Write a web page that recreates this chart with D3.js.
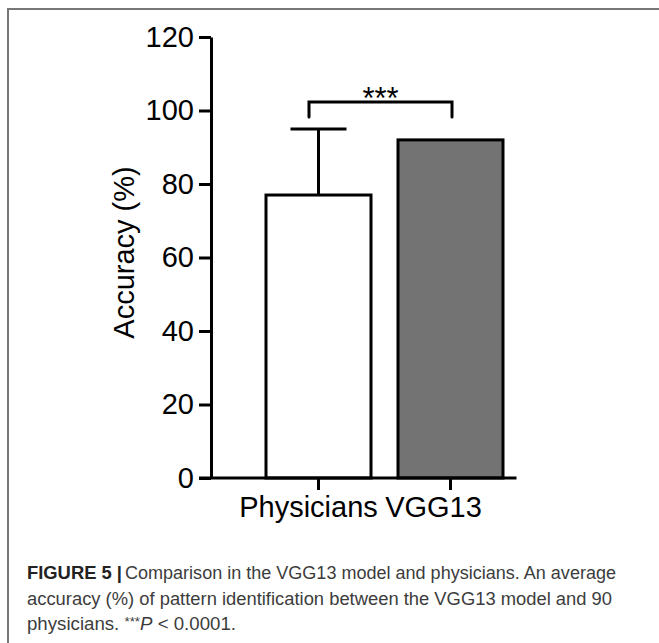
<!DOCTYPE html>
<html>
<head>
<meta charset="utf-8">
<script src="https://cdn.jsdelivr.net/npm/d3@7"></script>
<style>
  html, body { margin: 0; padding: 0; background: #fff; }
  svg { display: block; }
  text { font-family: "Liberation Sans", Arial, Helvetica, sans-serif; }
</style>
</head>
<body>
<svg id="chart" width="659" height="643"></svg>
<script>
// ---- data ----
const categories = ["Physicians", "VGG13"];
const means = [77, 92];
const errorTop = [95, null];
const yTicks = [0, 20, 40, 60, 80, 100, 120];
const yDomain = [0, 120];
const sigText = "***";
const sigBracket = [98.2, 102.3]; // drop end, bracket level (data units)
const yLabel = "Accuracy (%)";
const captionBold = "FIGURE 5 |";
const captionLines = [
  "Comparison in the VGG13 model and physicians. An average",
  "accuracy (%) of pattern identification between the VGG13 model and 90",
];

const svg = d3.select("#chart");

// frame
svg.append("path")
  .attr("d", "M8,643 L8,9 L659,9")
  .attr("fill", "none").attr("stroke", "#777").attr("stroke-width", 2);

const y = d3.scaleLinear().domain(yDomain).range([478, 37]);
const x = d3.scaleBand().domain(categories).range([252.5, 516.5])
  .paddingInner(0.2045).paddingOuter(0.1023);

const axisX0 = 211;
const tickLen = 12;

// bars
const fills = ["#ffffff", "#737373"];
svg.selectAll("rect.bar").data(categories).enter().append("rect")
  .attr("class", "bar")
  .attr("x", d => x(d))
  .attr("width", x.bandwidth())
  .attr("y", (d, i) => y(means[i]))
  .attr("height", (d, i) => y(0) - y(means[i]))
  .attr("fill", (d, i) => fills[i])
  .attr("stroke", "#000").attr("stroke-width", 3);

// error bars
categories.forEach((c, i) => {
  if (errorTop[i] == null) return;
  const cx = x(c) + x.bandwidth() / 2;
  svg.append("line").attr("x1", cx).attr("x2", cx)
    .attr("y1", y(means[i])).attr("y2", y(errorTop[i]))
    .attr("stroke", "#000").attr("stroke-width", 3);
  svg.append("line").attr("x1", cx - 28).attr("x2", cx + 28)
    .attr("y1", y(errorTop[i])).attr("y2", y(errorTop[i]))
    .attr("stroke", "#000").attr("stroke-width", 3);
});

// y axis
const yAxis = d3.axisLeft(y).tickValues(yTicks).tickSizeInner(tickLen).tickSizeOuter(0).tickPadding(5);
const gy = svg.append("g").attr("transform", `translate(${axisX0},0)`).call(yAxis);
gy.select(".domain").attr("stroke", "#000").attr("stroke-width", 3);
gy.selectAll(".tick line").attr("stroke", "#000").attr("stroke-width", 3);
gy.selectAll(".tick text").attr("font-size", 29).attr("fill", "#000")
  .attr("font-family", "Liberation Sans, Arial, sans-serif");

// x axis
const xAxis = d3.axisBottom(x).tickSizeInner(tickLen).tickSizeOuter(0).tickPadding(0);
const gx = svg.append("g").attr("transform", `translate(0,${y(0)})`).call(xAxis);
gx.select(".domain").remove();
gx.append("line").attr("x1", axisX0 - tickLen).attr("x2", x.range()[1])
  .attr("y1", 0).attr("y2", 0).attr("stroke", "#000").attr("stroke-width", 3);
gx.selectAll(".tick line").attr("stroke", "#000").attr("stroke-width", 3);
const xLabelShift = [-10, -17];
gx.selectAll(".tick text").attr("font-size", 29).attr("fill", "#000")
  .attr("font-family", "Liberation Sans, Arial, sans-serif")
  .attr("y", 39).attr("dy", 0)
  .attr("dx", (d, i) => xLabelShift[i]);

// y label
svg.append("text")
  .attr("transform", `translate(134,252.5) rotate(-90)`)
  .attr("text-anchor", "middle")
  .attr("font-size", 29).attr("fill", "#000")
  .text(yLabel);

// significance bracket
const bx1 = x(categories[0]) + x.bandwidth() / 2 - 9.5;
const bx2 = x(categories[1]) + x.bandwidth() / 2 + 1.5;
svg.append("path")
  .attr("d", `M${bx1},${y(sigBracket[0])} L${bx1},${y(sigBracket[1])} L${bx2},${y(sigBracket[1])} L${bx2},${y(sigBracket[0])}`)
  .attr("fill", "none").attr("stroke", "#000").attr("stroke-width", 3)
  .attr("stroke-linecap", "round").attr("stroke-linejoin", "miter");
svg.append("text")
  .attr("x", (bx1 + bx2) / 2).attr("y", y(sigBracket[1]) + 7)
  .attr("text-anchor", "middle").attr("font-size", 31).attr("fill", "#000")
  .text(sigText);

// caption
const capColor = "#3c3c3c";
const capSize = 17.5;
svg.append("text").attr("x", 27).attr("y", 579)
  .attr("font-size", capSize).attr("font-weight", "bold").attr("fill", "#222")
  .attr("textLength", 95).attr("lengthAdjust", "spacingAndGlyphs")
  .text(captionBold);
svg.append("text").attr("x", 125).attr("y", 579)
  .attr("font-size", capSize).attr("fill", capColor)
  .attr("textLength", 491).attr("lengthAdjust", "spacingAndGlyphs")
  .text(captionLines[0]);
svg.append("text").attr("x", 27).attr("y", 605)
  .attr("font-size", capSize).attr("fill", capColor)
  .attr("textLength", 585).attr("lengthAdjust", "spacingAndGlyphs")
  .text(captionLines[1]);
const l3 = svg.append("text").attr("x", 27).attr("y", 630)
  .attr("font-size", capSize).attr("fill", capColor)
  .attr("textLength", 209).attr("lengthAdjust", "spacingAndGlyphs");
l3.append("tspan").text("physicians. ");
l3.append("tspan").attr("font-size", 12.5).attr("dy", -4).text("***");
l3.append("tspan").attr("font-style", "italic").attr("dy", 4).text("P");
l3.append("tspan").text(" < 0.0001.");
</script>
</body>
</html>
